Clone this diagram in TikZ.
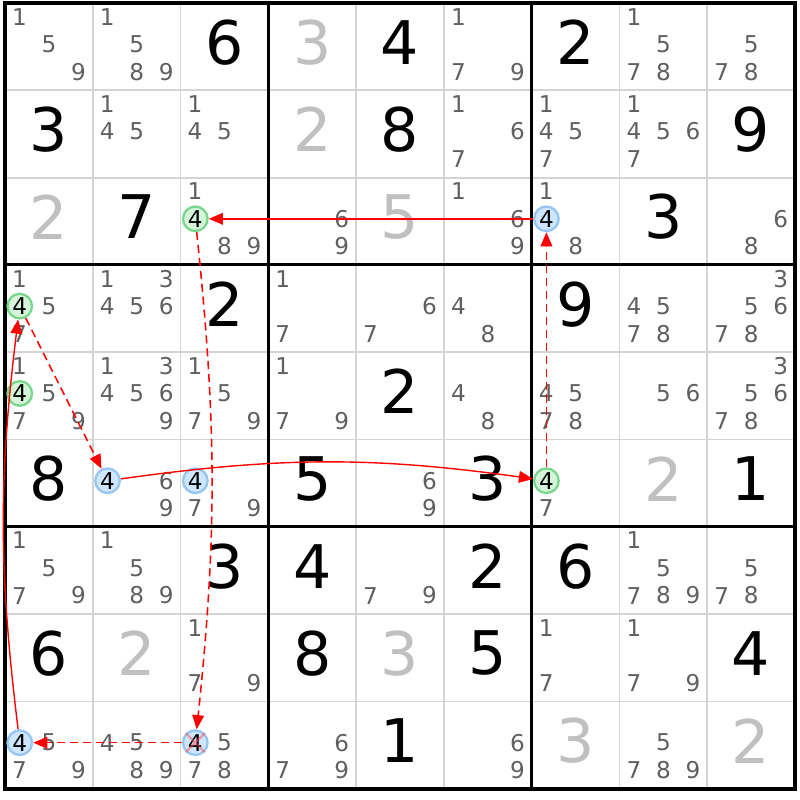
\documentclass[tikz,border=0pt]{standalone}
\usepackage{fontspec}
\setmainfont{DejaVu Sans}
\usetikzlibrary{arrows.meta}

\definecolor{candgray}{RGB}{95,95,95}
\definecolor{solvedgray}{RGB}{192,192,192}
\definecolor{cellline}{RGB}{212,212,212}
\definecolor{bluefill}{RGB}{206,230,255}
\definecolor{blueline}{RGB}{150,198,242}
\definecolor{greenfill}{RGB}{212,245,218}
\definecolor{greenline}{RGB}{122,214,140}

\begin{document}
\begin{tikzpicture}[x=1cm, y=0.9947cm,
    thinline/.style={cellline, line width=0.6pt},
    boxline/.style={black, line width=1pt},
    given/.style={font=\fontsize{19.5}{19.5}\selectfont, text=black, inner sep=0pt},
    solved/.style={given, text=solvedgray},
    cand/.style={font=\fontsize{7.5}{7.5}\selectfont, text=candgray, inner sep=0pt},
    mark4/.style={circle, draw=#1line, fill=#1fill, line width=0.75pt, inner sep=0pt,
        minimum size=0.28cm, font=\fontsize{7.5}{7.5}\selectfont, text=black},
    strong/.style={red, line width=0.45pt, -{Triangle[length=4.6pt,width=3.8pt]}},
    weak/.style={strong, line width=0.5pt, dash pattern=on 2.6pt off 1.6pt},
    xmark/.style={red!70, opacity=0.5, line width=0.7pt}]

    \useasboundingbox (-0.057,0.034) rectangle (9.057,-9.126);

    % Cell lines
    \foreach \i in {1,...,8} {
        \draw[thinline] (\i,0) -- (\i,-9);
        \draw[thinline] (0,-\i) -- (9,-\i);
    }

    % Box lines
    \foreach \i in {3,6} {
        \draw[boxline] (\i,0) -- (\i,-9);
        \draw[boxline] (0,-\i) -- (9,-\i);
    }
    \draw[boxline, line width=1.2pt] (0,0) rectangle (9,-9);

    % Given digits
    \foreach \r/\c/\v in {1/3/6, 1/5/4, 1/7/2, 2/1/3, 2/5/8, 2/9/9, 3/2/7, 3/8/3,
        4/3/2, 4/7/9, 5/5/2, 6/1/8, 6/4/5, 6/6/3, 6/9/1, 7/3/3, 7/4/4, 7/6/2,
        7/7/6, 8/1/6, 8/4/8, 8/6/5, 8/9/4, 9/5/1}
        \node[given] (g\r\c) at (\c-0.5, 0.55-\r) {\v};

    % Solved digits
    \foreach \r/\c/\v in {1/4/3, 2/4/2, 3/1/2, 3/5/5, 6/8/2, 8/2/2, 8/5/3, 9/7/3, 9/9/2}
        \node[solved] (s\r\c) at (\c-0.5, 0.55-\r) {\v};

    % Candidates
    \def\cellcands#1#2#3{%
        \foreach \d in {#3} {
            \pgfmathsetmacro\cx{#2 - 1 + 0.165 + 0.336*mod(\d-1,3)}
            \pgfmathsetmacro\cy{-(#1 - 1 + 0.157 + 0.315*floor((\d-1)/3))}
            \node[cand] (p#1#2\d) at (\cx,\cy) {\d};
        }}
    \cellcands{1}{1}{1,5,9} \cellcands{1}{2}{1,5,8,9} \cellcands{1}{6}{1,7,9}
    \cellcands{1}{8}{1,5,7,8} \cellcands{1}{9}{5,7,8}
    \cellcands{2}{2}{1,4,5} \cellcands{2}{3}{1,4,5} \cellcands{2}{6}{1,6,7}
    \cellcands{2}{7}{1,4,5,7} \cellcands{2}{8}{1,4,5,6,7}
    \cellcands{3}{3}{1,8,9} \cellcands{3}{4}{6,9} \cellcands{3}{6}{1,6,9}
    \cellcands{3}{7}{1,8} \cellcands{3}{9}{6,8}
    \cellcands{4}{1}{1,5,7} \cellcands{4}{2}{1,3,4,5,6} \cellcands{4}{4}{1,7}
    \cellcands{4}{5}{6,7} \cellcands{4}{6}{4,8} \cellcands{4}{8}{4,5,7,8}
    \cellcands{4}{9}{3,5,6,7,8}
    \cellcands{5}{1}{1,5,7,9} \cellcands{5}{2}{1,3,4,5,6,9} \cellcands{5}{3}{1,5,7,9}
    \cellcands{5}{4}{1,7,9} \cellcands{5}{6}{4,8} \cellcands{5}{7}{4,5,7,8}
    \cellcands{5}{8}{5,6} \cellcands{5}{9}{3,5,6,7,8}
    \cellcands{6}{2}{6,9} \cellcands{6}{3}{7,9} \cellcands{6}{5}{6,9} \cellcands{6}{7}{7}
    \cellcands{7}{1}{1,5,7,9} \cellcands{7}{2}{1,5,8,9} \cellcands{7}{5}{7,9}
    \cellcands{7}{8}{1,5,7,8,9} \cellcands{7}{9}{5,7,8}
    \cellcands{8}{3}{1,7,9} \cellcands{8}{7}{1,7} \cellcands{8}{8}{1,7,9}
    \cellcands{9}{1}{5,7,9} \cellcands{9}{2}{4,5,8,9} \cellcands{9}{3}{5,7,8}
    \cellcands{9}{4}{6,7,9} \cellcands{9}{6}{6,9} \cellcands{9}{8}{5,7,8,9}

    % Marked candidate 4s
    \foreach \r/\c/\s in {3/3/green, 4/1/green, 5/1/green, 6/7/green,
        3/7/blue, 6/2/blue, 6/3/blue, 9/1/blue, 9/3/blue}
        \node[mark4=\s] (c\r\c) at ({\c-1+0.168}, {-(\r-1+0.472)}) {4};

    % Chain
    \draw[strong] (c37) -- (c33);
    \draw[weak] (c33) to[bend left=6] (c93);
    \draw[weak] (c93) -- (c91);
    \draw[strong] (c91) to[bend left=7] (c41);
    \draw[weak] (c41) -- (c62);
    \draw[strong] (c62) to[bend left=8] (c67);
    \draw[weak] (c67) -- (c37);

    % Eliminated candidate
    \draw[xmark] (c93.135) -- (c93.-45) (c93.45) -- (c93.-135);

\end{tikzpicture}
\end{document}
